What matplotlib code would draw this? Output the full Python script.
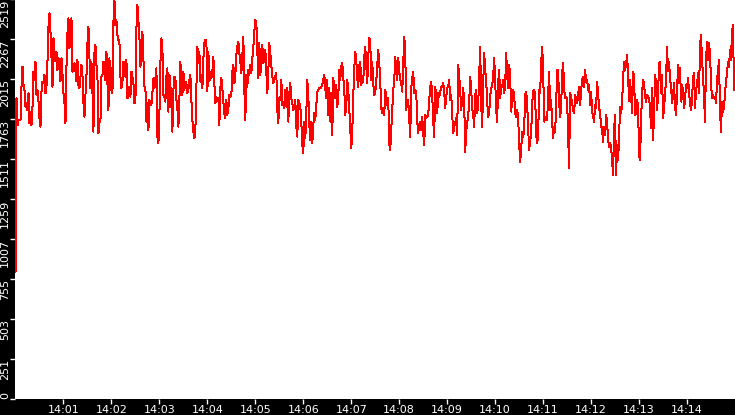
import matplotlib
matplotlib.use("Agg")
import matplotlib.pyplot as plt
import matplotlib.dates as mdates
import numpy as np
import pandas as pd

# samples, one every 1.25 s from 14:00:00
part1 = [800, 1895, 1727, 1759, 1759, 1759, 1969, 2095, 1980, 1948, 1843, 1864, 1822, 1927, 1738,
         1812, 1727, 1843, 2064, 2011, 2127, 1917, 1948, 1875, 1770, 1717, 1938, 2001, 1990, 2043,
         1927, 1969, 2127, 2347, 2431, 2316, 2158, 1969, 2274, 2127, 2190, 2190, 2074, 2148, 2106,
         2001, 2148, 2053, 1927, 1864, 1738, 2095, 2305, 2400, 2211, 2305, 2400, 2064, 2074, 2116,
         2064, 2001, 2137, 1980, 1959, 2032, 2106, 2043, 1864, 1780, 1917, 2032, 2242, 2347, 2148,
         1959, 2127, 1938, 1686, 2179, 2232, 2106, 2032, 1675, 1759, 1749, 2032, 2043, 2127, 2127,
         2011, 2190, 1990, 1822, 2148, 1948, 2085, 1927, 2379, 2515, 2358, 2389, 2295, 2263, 2253,
         2032, 1959, 2001, 2127, 2106, 2032, 2137, 1896, 1906, 1969, 1906, 2064, 2032, 1990, 1864]
part2 = [1875, 2337, 2484, 2389, 2284, 2095, 2169, 2316, 2148, 1969, 1959, 1749, 1864, 1696, 1885,
         1864, 1854, 1927, 2022, 1959, 2022, 2085, 1654, 1612, 1790, 2116, 2274, 2211, 1917, 1906,
         1875, 2032, 2085, 1812, 2043, 1980, 1854, 1686, 1948, 2032, 2022, 1885, 1833, 1717, 1885,
         2127, 1948, 1917, 2064, 1948, 2001, 1990, 1927, 1948, 2011, 2043, 1885, 1759, 1686, 1644,
         1696, 1969, 2221, 2116, 2190, 2001, 2043, 1959, 2148, 2242, 2263, 2263, 1938, 2190, 2001,
         2064, 2022, 2064, 2158, 1990, 1864, 1906, 1885, 1896, 1728, 1959, 2022, 1959, 1875, 1801,
         1770, 1885, 1791, 1833, 1917, 1906, 1917, 2064, 2106, 1990, 2043, 2169, 2221, 2253, 2179,
         2127, 2053, 2169, 2284, 1948, 1759, 2043, 1969, 2074, 2043, 2106, 2053, 2148, 2221, 2316]
part3 = [2389, 2368, 2190, 2022, 2242, 2043, 2137, 2232, 2116, 2158, 2200, 2064, 1927, 2064, 2242,
         2179, 2106, 2032, 1990, 2011, 2032, 2053, 1822, 1738, 1896, 1885, 2011, 1854, 1875, 1833,
         1948, 1843, 1959, 1749, 1927, 1990, 1896, 1864, 1822, 1833, 1885, 1717, 1654, 1885, 1864,
         1843, 1749, 1602, 1549, 1749, 1644, 1801, 2011, 1917, 1728, 1633, 1749, 1612, 1728, 1801,
         1759, 1854, 1938, 1948, 1959, 1959, 1969, 1980, 2011, 2043, 1959, 1896, 2011, 1791, 1959,
         1749, 1927, 1665, 2022, 1948, 1896, 1980, 1843, 1906, 2074, 2011, 2095, 2116, 2022, 1948,
         1791, 1843, 2011, 1948, 1822, 1696, 1581, 1686, 1906, 2085, 2190, 2137, 2022, 1969, 2106,
         2127, 1980, 2022, 2001, 2158, 2221, 2106, 1990, 2158, 2274, 2253, 2011, 2127, 1990, 1917]
part4 = [1938, 2001, 2106, 2200, 2116, 2001, 1833, 1801, 1833, 1791, 1948, 1906, 1854, 1896, 1612,
         1570, 1696, 1822, 1948, 2001, 2158, 2074, 2011, 2148, 2064, 2011, 1990, 1938, 2106, 2284,
         2190, 1822, 1875, 1885, 1770, 1654, 1959, 2022, 2064, 1927, 1948, 1938, 1749, 1675, 1728,
         1749, 1696, 1780, 1675, 1602, 1791, 1770, 1780, 1791, 1885, 1969, 2001, 1917, 1749, 1654,
         1969, 1917, 1801, 1927, 1906, 1938, 1969, 1969, 1990, 1938, 1833, 1906, 1959, 1969, 2011,
         1885, 1917, 1791, 1675, 1717, 1738, 1770, 1665, 2106, 2032, 1948, 1822, 1885, 1959, 1875,
         1560, 1686, 1738, 1791, 1864, 2032, 1948, 1833, 1791, 1717, 1917, 1948, 1801, 1854, 2043,
         2221, 1854, 1717, 1980, 2179, 2074, 2011, 1875, 1780, 1801, 1906, 1959, 1980, 2032, 2148]
part5 = [2011, 1822, 1749, 1990, 2074, 1896, 1959, 1969, 2011, 1927, 1980, 2179, 2043, 1959, 2106,
         2032, 1812, 1885, 1948, 1917, 1801, 1780, 1822, 1770, 1612, 1497, 1570, 1686, 1654, 1696,
         1917, 1938, 1864, 1707, 1570, 1633, 1665, 1864, 1938, 1948, 1917, 1665, 1612, 1654, 1948,
         1927, 2116, 2221, 2085, 1749, 1770, 1780, 1759, 1906, 2064, 1822, 1885, 1749, 1644, 1717,
         1686, 1843, 2074, 2074, 1875, 1780, 1833, 2053, 2116, 1959, 1896, 1906, 1885, 1675, 1455,
         1927, 1906, 1864, 1822, 1801, 1917, 1896, 1864, 1917, 1969, 1854, 1938, 2011, 2032, 1969,
         2074, 2001, 2011, 1948, 1980, 1854, 1938, 1812, 1780, 1749, 1854, 1833, 2001, 1917, 1843,
         1791, 1728, 1696, 1623, 1717, 1665, 1791, 1749, 1633, 1591, 1612, 1591, 1497, 1413, 1696]
part6 = [1791, 1413, 1602, 1507, 1654, 1843, 1801, 1864, 2022, 2127, 2074, 2106, 2169, 2043, 1875,
         2011, 1917, 1801, 2064, 2032, 1791, 1801, 1885, 1843, 1539, 1507, 1759, 1927, 2011, 1990,
         1906, 1875, 1917, 1906, 1896, 1833, 1707, 1959, 1633, 1791, 2043, 1990, 1822, 1917, 2116,
         2127, 1927, 2043, 1770, 1833, 1927, 2011, 2221, 2064, 2127, 2011, 1980, 1864, 1917, 1990,
         1843, 1791, 1938, 2106, 1990, 2085, 1875, 1980, 1938, 1833, 1885, 1980, 1959, 2022, 1938,
         1864, 1822, 1885, 2022, 2053, 1833, 1948, 1980, 2053, 1927, 2232, 2295, 2127, 2043, 1906,
         1749, 2137, 2253, 2137, 2242, 2179, 1990, 1896, 1917, 1896, 1906, 1864, 2001, 2074, 2137,
         1822, 1686, 1875, 1812, 1833, 1927, 2001, 2053, 2127, 2095, 2200, 2137, 2316, 2358, 1948]

values = np.array(part1 + part2 + part3 + part4 + part5 + part6)
times = pd.date_range("2024-01-01 14:00:00", periods=len(values), freq="1250ms")

y_max = 2519
y_ticks = [y_max * k / 10 for k in range(11)]
y_labels = [str(int(t)) for t in y_ticks]

fig = plt.figure(figsize=(7.35, 4.15), dpi=100, facecolor="black")
W, H = 735, 415
ax = fig.add_axes([15.5 / W, 15.7 / H, (W - 15.5) / W, 400 / H])
ax.set_facecolor("white")
for s in ax.spines.values():
    s.set_visible(False)

ax.plot(times, values, color="#ff0000", lw=0.72, antialiased=False)

ax.set_xlim(pd.Timestamp("2024-01-01 14:00:00"), pd.Timestamp("2024-01-01 14:15:00"))
ax.set_ylim(0, y_max)

ax.xaxis.set_major_locator(mdates.MinuteLocator(byminute=range(1, 15)))
ax.xaxis.set_major_formatter(mdates.DateFormatter("%H:%M"))
ax.set_yticks(y_ticks)
ax.set_yticklabels(y_labels)

ax.tick_params(axis="both", colors="white", direction="out", length=3.6, width=1)
ax.tick_params(axis="x", labelsize=8, pad=0.5)
ax.tick_params(axis="y", labelsize=8, pad=0.5)

for lbl in ax.get_yticklabels():
    lbl.set_rotation(90)
    lbl.set_va("top")
ax.get_yticklabels()[0].set_va("bottom")

fig.savefig("out.png", dpi=100, facecolor="black")
